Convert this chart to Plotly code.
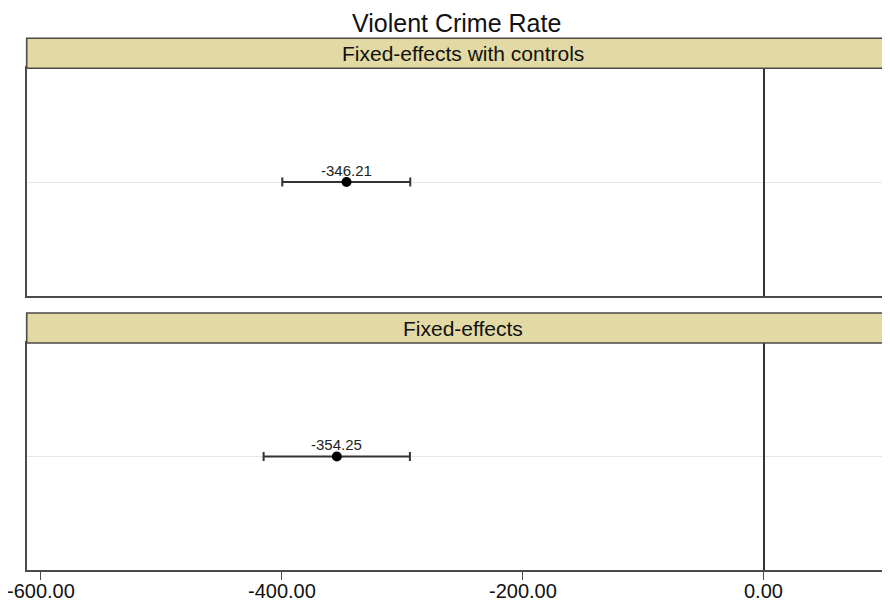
import plotly.graph_objects as go

# ---- data ----
models = ["Fixed-effects with controls", "Fixed-effects"]
estimates = [-346.21, -354.25]
ci_low = [-399.5, -415.0]
ci_high = [-293.3, -293.6]
tick_vals = [-600, -400, -200, 0]
tick_labels = ["-600.00", "-400.00", "-200.00", "0.00"]
title_text = "Violent Crime Rate"

OFF = 8  # page body margin
W, H = 890 - OFF, 605 - OFF


def fx(p):
    return (p - OFF) / W


def fy(p):
    return 1 - (p - OFF) / H


LINE = "#4a4a4a"
STRIP = "#E2D9A4"
FONT = "Liberation Sans, Arial, sans-serif"

# panel geometry in screen pixels: (panel top, panel bottom, strip top)
panels = [(68.3, 295.7, 38.3), (343.0, 570.0, 313.0)]
x_left = 26.7
x_range = [-611.6, 104.8]

fig = go.Figure()
annotations = []
shapes = []

for i, (m, e, lo, hi) in enumerate(zip(models, estimates, ci_low, ci_high)):
    xa = "x" if i == 0 else "x2"
    ya = "y" if i == 0 else "y2"
    fig.add_trace(go.Scatter(
        x=[e], y=[0], mode="markers",
        marker=dict(color="black", size=10),
        error_x=dict(type="data", symmetric=False, array=[hi - e], arrayminus=[e - lo],
                     color="#333333", thickness=2, width=4.5),
        xaxis=xa, yaxis=ya, showlegend=False, hoverinfo="skip",
    ))
    annotations.append(dict(
        x=e, y=0, xref=xa, yref=ya, text=f"{e:.2f}", showarrow=False,
        yshift=12, yanchor="middle", font=dict(size=15, color="#222", family=FONT),
    ))
    ptop, pbot, stop = panels[i]
    shapes.append(dict(
        type="rect", xref="paper", yref="paper",
        x0=fx(x_left), x1=1.05, y0=fy(ptop), y1=fy(stop),
        fillcolor=STRIP, line=dict(color=LINE, width=1.6), layer="above",
    ))
    annotations.append(dict(
        x=fx(463), y=fy((ptop + stop) / 2), xref="paper", yref="paper",
        text=m, showarrow=False, xanchor="center", yanchor="middle",
        font=dict(size=21, color="#111", family=FONT),
    ))

# x tick labels (drawn as annotations so the edge label is kept)
for tv, tl in zip(tick_vals, tick_labels):
    annotations.append(dict(
        x=tv, y=fy(591), xref="x2", yref="paper", text=tl, showarrow=False,
        xanchor="center", yanchor="middle",
        font=dict(size=20, color="#111", family=FONT),
    ))

annotations.append(dict(
    x=fx(456), y=1, xref="paper", yref="paper", text=title_text,
    showarrow=False, xanchor="center", yanchor="top", borderpad=0,
    font=dict(size=25, color="#111", family=FONT),
))

common_x = dict(
    domain=[fx(x_left), 1], range=x_range, showline=True, linecolor=LINE,
    linewidth=1.6, mirror=True, showgrid=False, zeroline=True,
    zerolinecolor="#333333", zerolinewidth=1.6, automargin=False,
)
common_y = dict(
    range=[-1, 1], showline=True, linecolor=LINE, linewidth=1.6, mirror=False,
    tickvals=[0], showticklabels=False, ticks="", showgrid=True,
    gridcolor="#e6e6e6", gridwidth=1, zeroline=False, automargin=False,
)

fig.update_layout(
    width=W, height=H, autosize=False,
    margin=dict(l=0, r=0, t=0, b=0, pad=0),
    paper_bgcolor="white", plot_bgcolor="white",
    font=dict(family=FONT, color="#111"),
    xaxis=dict(common_x, anchor="y", ticks="", showticklabels=False),
    xaxis2=dict(common_x, anchor="y2", ticks="outside", ticklen=8, tickwidth=1.4,
                tickcolor=LINE, tickvals=tick_vals, showticklabels=False),
    yaxis=dict(common_y, anchor="x", domain=[fy(panels[0][1]), fy(panels[0][0])]),
    yaxis2=dict(common_y, anchor="x2", domain=[fy(panels[1][1]), fy(panels[1][0])]),
    annotations=annotations,
    shapes=shapes,
)

fig.write_html("out.html")
